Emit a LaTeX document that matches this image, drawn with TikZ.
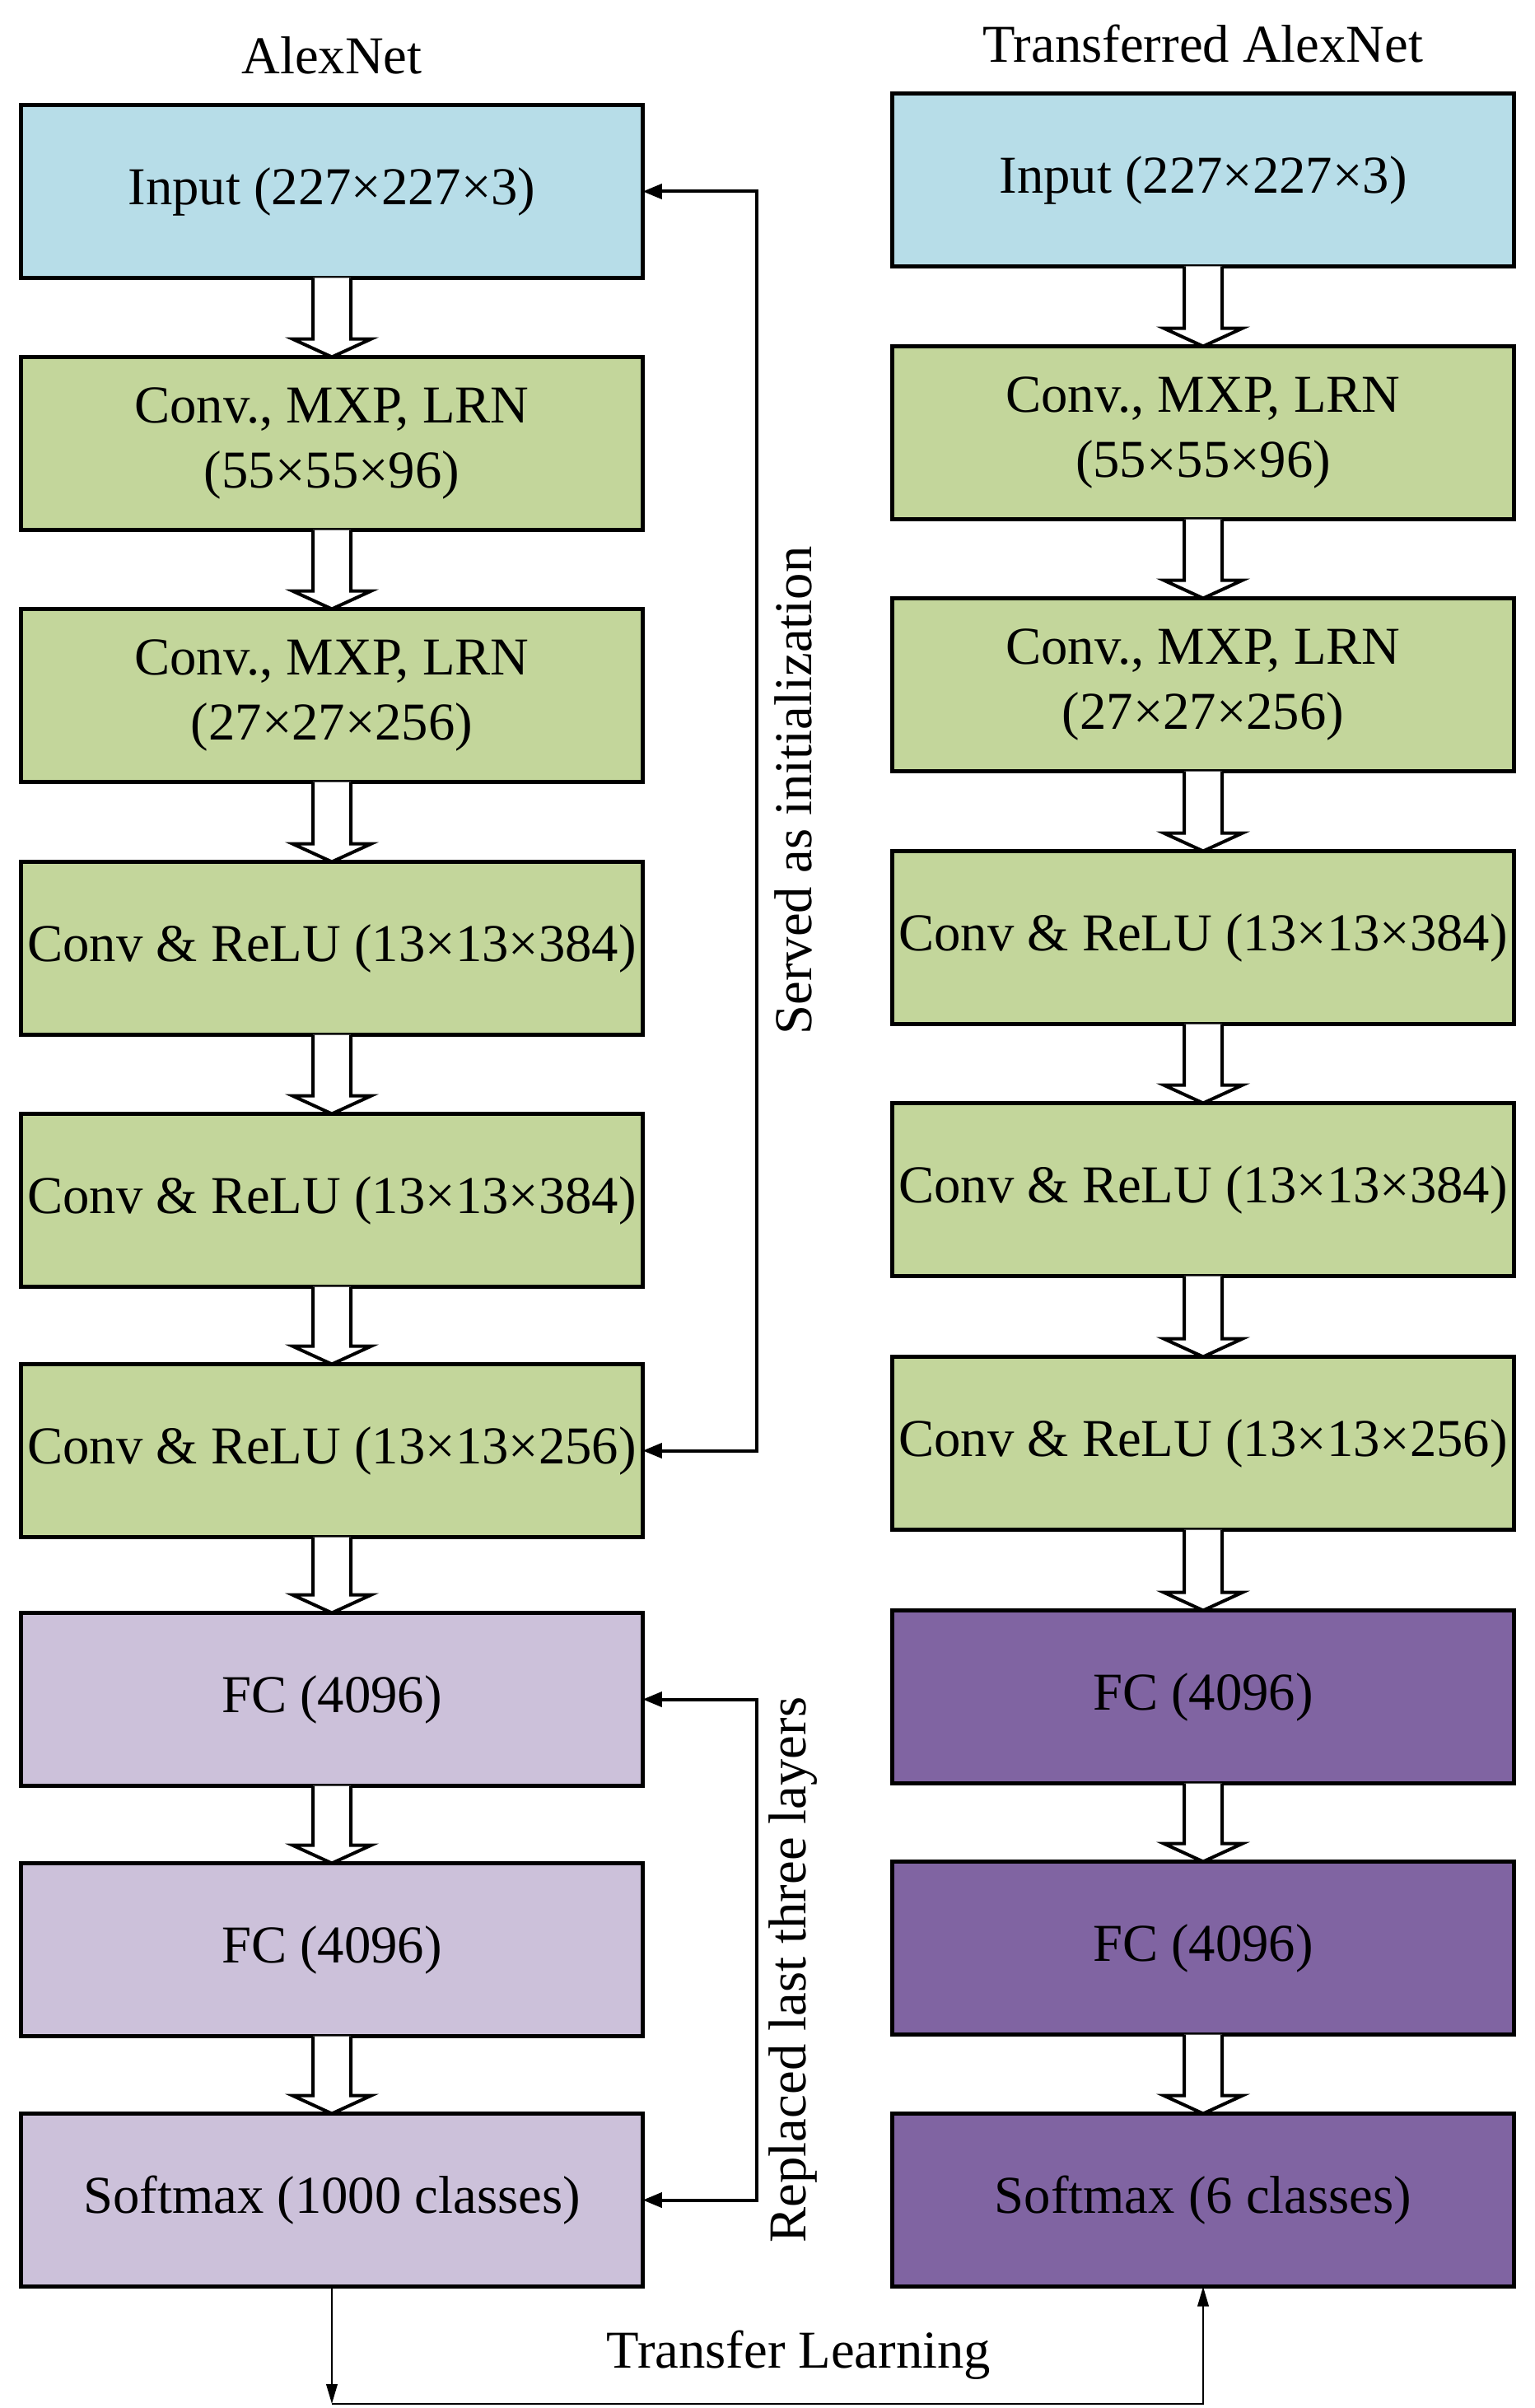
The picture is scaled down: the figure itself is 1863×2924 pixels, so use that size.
\documentclass[tikz,border=0pt]{standalone}
\usepackage{fontspec}
\setmainfont{Liberation Serif}
\usetikzlibrary{calc,arrows.meta}
\definecolor{inblue}{RGB}{183,221,232}
\definecolor{convgreen}{RGB}{195,214,155}
\definecolor{fclav}{RGB}{204,193,218}
\definecolor{fcpurple}{RGB}{128,100,162}

% hollow block arrow from the bottom of #1 to the top of #2
\newcommand\blockarrow[2]{%
  \draw[hollowarrow]
    ($(#1.south)+(-23,0)$) -- ($(#2.north)+(-23,-22)$) -- ($(#2.north)+(-48,-22)$)
    -- (#2.north) -- ($(#2.north)+(48,-22)$) -- ($(#2.north)+(23,-22)$)
    -- ($(#1.south)+(23,0)$);}

\begin{document}
\begin{tikzpicture}[x=0.3pt,y=-0.3pt,
  txt/.style={font=\fontsize{19.4pt}{23.5pt}\selectfont},
  layer/.style={txt,draw=black,line width=1.6pt,minimum width=226.5pt,
    minimum height=63pt,inner sep=0pt,outer sep=0pt,align=center},
  inlayer/.style={layer,fill=inblue},
  convlayer/.style={layer,fill=convgreen},
  fcold/.style={layer,fill=fclav},
  fcnew/.style={layer,fill=fcpurple},
  hollowarrow/.style={draw=black,fill=white,line width=1.2pt,line join=miter},
  link/.style={draw=black,line width=1.2pt,{Triangle[length=7pt,width=5.4pt]}-{Triangle[length=7pt,width=5.4pt]}},
  thinlink/.style={draw=black,line width=0.8pt},
  thintip/.style={-{Triangle[length=7.2pt,width=4pt]}}
]
\useasboundingbox (0,0) rectangle (1863,2924);

% column titles
\node[txt] (t1) at (403,67) {AlexNet};
\node[txt] (t2) at (1461,53) {Transferred AlexNet};

% original network
\node[inlayer]   (a1) at (403,232.5)  {Input (227×227×3)};
\node[convlayer] (a2) at (403,538.5)  {Conv., MXP, LRN\\(55×55×96)};
\node[convlayer] (a3) at (403,844.5)  {Conv., MXP, LRN\\(27×27×256)};
\node[convlayer] (a4) at (403,1151.5) {Conv \& ReLU (13×13×384)};
\node[convlayer] (a5) at (403,1457.5) {Conv \& ReLU (13×13×384)};
\node[convlayer] (a6) at (403,1761.5) {Conv \& ReLU (13×13×256)};
\node[fcold]     (a7) at (403,2063.5) {FC (4096)};
\node[fcold]     (a8) at (403,2367.5) {FC (4096)};
\node[fcold]     (a9) at (403,2671.5) {Softmax (1000 classes)};

% transferred network
\node[inlayer]   (b1) at (1461,218.5)  {Input (227×227×3)};
\node[convlayer] (b2) at (1461,525.5)  {Conv., MXP, LRN\\(55×55×96)};
\node[convlayer] (b3) at (1461,831.5)  {Conv., MXP, LRN\\(27×27×256)};
\node[convlayer] (b4) at (1461,1138.5) {Conv \& ReLU (13×13×384)};
\node[convlayer] (b5) at (1461,1444.5) {Conv \& ReLU (13×13×384)};
\node[convlayer] (b6) at (1461,1752.5) {Conv \& ReLU (13×13×256)};
\node[fcnew]     (b7) at (1461,2060.5) {FC (4096)};
\node[fcnew]     (b8) at (1461,2365.5) {FC (4096)};
\node[fcnew]     (b9) at (1461,2671.5) {Softmax (6 classes)};

% data flow inside each network
\foreach \i/\j in {1/2,2/3,3/4,4/5,5/6,6/7,7/8,8/9}{
  \blockarrow{a\i}{a\j}
  \blockarrow{b\i}{b\j}
}

% weight initialization bracket
\coordinate (s1) at (919,232.5);
\coordinate (s2) at (919,1761.5);
\draw[link] (a1.east) -- (s1) -- (s2) -- (a6.east);
\node[txt,rotate=90] (slab) at (963,960) {Served as initialization};

% replaced layers bracket
\coordinate (r1) at (919,2063.5);
\coordinate (r2) at (919,2671.5);
\draw[link] (a7.east) -- (r1) -- (r2) -- (a9.east);
\node[txt,rotate=90] (rlab) at (963,2392) {Replaced last three layers};

% transfer learning path
\coordinate (q1) at (403,2919);
\coordinate (q2) at (1461,2919);
\draw[thinlink,thintip] (a9.south) -- (q1);
\draw[thinlink,thintip] (q1) -- (q2) -- (b9.south);
\node[txt] (tlab) at (970,2860) {Transfer Learning};
\end{tikzpicture}
\end{document}
